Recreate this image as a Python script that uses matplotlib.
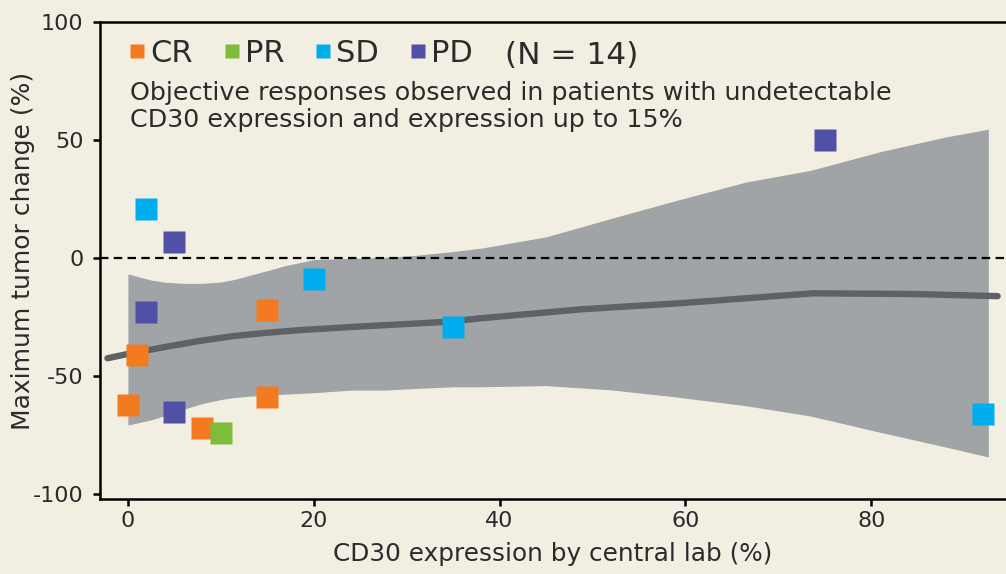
import numpy as np
import matplotlib
matplotlib.use("Agg")
import matplotlib.pyplot as plt
from matplotlib.lines import Line2D

# response groups: CD30 expression (%) and max tumor change (%)
cr_x = [0, 1, 8, 15, 15]
cr_y = [-62, -41, -72, -22, -59]
pr_x = [10]
pr_y = [-74]
sd_x = [2, 20, 35, 92]
sd_y = [21, -9, -29, -66]
pd_x = [5, 2, 5, 75]
pd_y = [7, -23, -65, 50]

# loess fit and confidence band
fit_x = [-2.2, 0.6, 4.2, 7.8, 11.4, 15, 18.5, 23.9, 34.7, 37.9, 48.7, 59.4, 73.7, 84.5, 93.6]
fit_y = [-42.4, -40.1, -37.5, -35.0, -33.0, -31.6, -30.5, -29.2, -26.9, -25.5, -21.7, -19.1, -14.9, -15.2, -16.1]
band_x = [0, 2.5, 4, 6, 8, 10, 11.5, 13, 15, 17, 18.5, 20, 24, 27.5, 31, 35, 38,
          45, 52, 59, 66.5, 73.5, 81, 88, 92.6]
band_hi = [-6.7, -9.3, -10.2, -10.7, -10.7, -10.1, -9.0, -7.4, -5.3, -3.1, -1.9, -0.6,
           -0.1, 0.3, 1.2, 2.8, 4.2, 9.0, 16.8, 24.4, 32.2, 37.2, 45.1, 51.3, 54.6]
band_lo = [-70.7, -68.5, -66.7, -64.0, -61.6, -59.9, -59.0, -58.5, -58.0, -57.6, -57.3, -57.0,
           -55.9, -55.9, -55.2, -54.5, -54.5, -54.0, -55.8, -58.8, -62.5, -66.9, -73.8, -80.0, -84.2]

groups = ["CR", "PR", "SD", "PD"]
colors = {"CR": "#F47A20", "PR": "#7DBD3B", "SD": "#00AEEF", "PD": "#5050A6"}
bg = "#F2EFE2"
txt = "#2B2B2B"

fig = plt.figure(figsize=(10.06, 5.74), dpi=100, facecolor=bg)
ax = fig.add_axes([0.0994, 0.1307, 0.9006, 0.831])
ax.set_facecolor(bg)

ax.fill_between(band_x, band_lo, band_hi, color="#A0A4A7", lw=0, zorder=1)
ax.plot(fit_x, fit_y, color="#5E6165", lw=4.6, solid_capstyle="round", zorder=2)
ax.axhline(0, color="black", lw=1.6, dashes=(3.8, 2.4), zorder=3)

data = {"CR": (cr_x, cr_y), "PR": (pr_x, pr_y), "SD": (sd_x, sd_y), "PD": (pd_x, pd_y)}
for g in groups:
    xs, ys = data[g]
    ax.plot(xs, ys, "s", ms=15.5, color=colors[g], mec="none", zorder=4)

handles = [Line2D([], [], marker="s", ls="none", ms=10.5, color=colors[g], mec="none") for g in groups]
leg = ax.legend(handles, groups, loc="upper left", bbox_to_anchor=(0.02, 0.99), ncol=4,
                frameon=False, fontsize=22, handlelength=0.45, handletextpad=0.2,
                columnspacing=1.05, borderaxespad=0)
for t in leg.get_texts():
    t.set_color(txt)
ax.text(0.447, 0.912, "(N = 14)", transform=ax.transAxes, fontsize=22.5, color=txt, va="baseline")
ax.text(0.033, 0.8365, "Objective responses observed in patients with undetectable",
        transform=ax.transAxes, fontsize=18.3, color=txt, va="baseline")
ax.text(0.033, 0.780, "CD30 expression and expression up to 15%",
        transform=ax.transAxes, fontsize=18.3, color=txt, va="baseline")

ax.set_xlim(-3, 94.5)
ax.set_ylim(-102, 100)
ax.set_xticks([0, 20, 40, 60, 80])
ax.set_yticks([-100, -50, 0, 50, 100])
ax.set_yticklabels(["-100", "-50", "0", "50", "100"])
ax.tick_params(labelsize=16, colors=txt, width=1.8, length=5, direction="out")
ax.tick_params(axis="both", color="black")
ax.tick_params(axis="y", pad=7)
for s in ["left", "bottom", "top"]:
    ax.spines[s].set_linewidth(1.8)
    ax.spines[s].set_color("black")
ax.spines["right"].set_visible(False)

ax.set_xlabel("CD30 expression by central lab (%)", fontsize=17.8, color=txt, labelpad=8)
ax.set_ylabel("Maximum tumor change (%)", fontsize=18, color=txt)
ax.yaxis.set_label_coords(-0.072, 0.52)

fig.savefig("out.png", dpi=100, facecolor=bg)
